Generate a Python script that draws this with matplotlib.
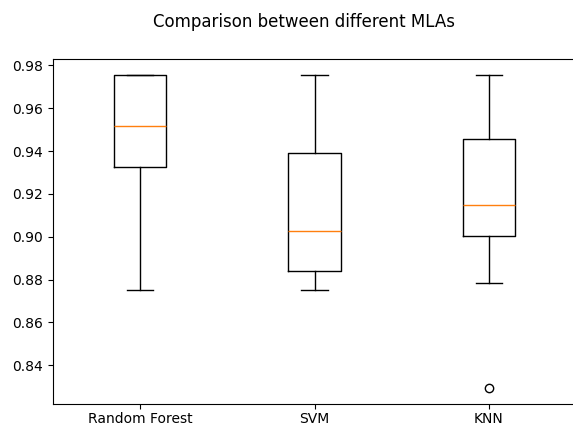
import matplotlib

matplotlib.use("Agg")
import matplotlib.pyplot as plt

# cross-validation accuracy summary per algorithm
MODELS = ["Random Forest", "SVM", "KNN"]
Q1 = [0.9327, 0.8839, 0.9001]
MEDIANS = [0.9515, 0.9028, 0.9149]
Q3 = [0.9755, 0.9392, 0.9454]
WHISKER_LOW = [0.8752, 0.8752, 0.8785]
WHISKER_HIGH = [0.9755, 0.9755, 0.9755]
FLIERS = [[], [], [0.8292]]


def main():
    stats = []
    for name, lo, q1, med, q3, hi, fl in zip(MODELS, WHISKER_LOW, Q1, MEDIANS, Q3, WHISKER_HIGH, FLIERS):
        stats.append({"label": name, "whislo": lo, "q1": q1, "med": med, "q3": q3, "whishi": hi, "fliers": fl})

    fig = plt.figure(figsize=(5.73, 4.26), dpi=100)
    ax = fig.add_axes([53 / 573, 22 / 426, 523 / 573, 344.7 / 426])
    ax.bxp(stats)
    ax.set_yticks([0.84, 0.86, 0.88, 0.90, 0.92, 0.94, 0.96, 0.98])
    ax.tick_params(axis="x", pad=2)
    fig.suptitle("Comparison between different MLAs", x=0.53, y=0.948, va="center", fontsize=12)
    fig.savefig("out.png", dpi=100)
    plt.close(fig)


if __name__ == "__main__":
    main()
